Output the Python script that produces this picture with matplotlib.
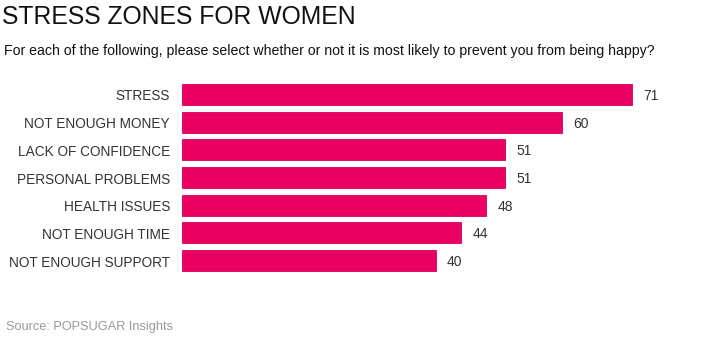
import numpy as np
import matplotlib.pyplot as plt

plt.rcParams['font.family'] = ['Liberation Sans', 'DejaVu Sans']

# data
kategori = ["STRESS", "NOT ENOUGH MONEY", "LACK OF CONFIDENCE", "PERSONAL PROBLEMS",
            "HEALTH ISSUES", "NOT ENOUGH TIME", "NOT ENOUGH SUPPORT"]
nilai = [71, 60, 51, 51, 48, 44, 40]

W, H = 728, 341
fig = plt.figure(figsize=(W / 100, H / 100), dpi=100)

# axes dalam piksel: kiri 182, kanan 700, atas 80.7, bawah 274.3
ax = fig.add_axes([182 / W, 1 - 274.3 / H, (700 - 182) / W, (274.3 - 80.7) / H])
y = np.arange(len(kategori))
ax.barh(y, nilai, height=0.76, color='#EA0062', edgecolor='#D4005A', linewidth=0.6)
ax.set_ylim(len(kategori) - 0.5, -0.5)
ax.set_xlim(0, (700 - 182) / (450 / 71))
ax.axis('off')

for i, v in enumerate(nilai):
    ax.text(v + 1.8, i, str(v), va='center_baseline', ha='left', fontsize=10, color='#333333')
    fig.text(170 / W, 1 - (95 + i * 27.67) / H, kategori[i], ha='right', va='center_baseline',
             fontsize=9.8, color='#333333')

fig.text(2 / W, 1 - 16.5 / H, "STRESS ZONES FOR WOMEN", fontsize=17.8, ha='left', va='center',
         color='#111111')
fig.text(4 / W, 1 - 51.5 / H,
         "For each of the following, please select whether or not it is most likely to prevent you from being happy?",
         fontsize=10.2, ha='left', va='center', color='#111111')
fig.text(6 / W, 1 - 327 / H, "Source: POPSUGAR Insights", fontsize=9.2, ha='left', va='center',
         color='#999999')

fig.savefig('out.png', dpi=100)
